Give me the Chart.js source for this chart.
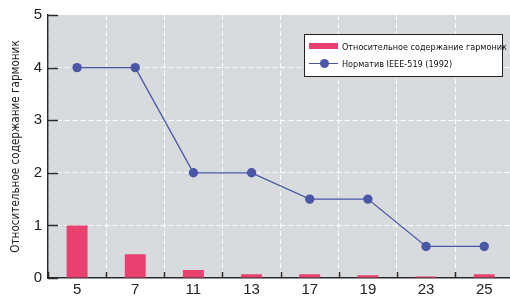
<!DOCTYPE html>
<html>
<head>
<meta charset="utf-8">
<script src="https://cdn.jsdelivr.net/npm/chart.js@4"></script>
<style>
    html, body { margin: 0; padding: 0; background: #fff; overflow: hidden; }
    #wrap { position: relative; width: 518px; height: 298px; }
    #legend {
        position: absolute; left: 304px; top: 34px; width: 197px; height: 41px;
        background: #fff; border: 1px solid #222;
        font-family: 'DejaVu Sans Condensed', 'Liberation Sans', sans-serif;
        font-stretch: condensed;
        font-size: 9px; color: #111;
    }
    .item { position: absolute; left: 4px; height: 12px; line-height: 12px; white-space: nowrap; }
    .swatch { position: absolute; left: 0; width: 29px; }
    .label { position: absolute; left: 33px; top: 0; }
</style>
</head>
<body>
<div id="wrap">
    <canvas id="chart" width="518" height="298"></canvas>
    <div id="legend">
        <div class="item" style="top:6px;">
            <div class="swatch" style="top:2px;height:6px;background:#e8416f;"></div>
            <span class="label">Относительное содержание гармоник</span>
        </div>
        <div class="item" style="top:23px;">
            <div class="swatch" style="top:5px;height:1px;background:#4a56a6;"></div>
            <div style="position:absolute;left:11px;top:1px;width:9px;height:9px;border-radius:50%;background:#4a56a6;"></div>
            <span class="label">Норматив IEEE-519 (1992)</span>
        </div>
    </div>
</div>
<script>
// Harmonic orders
const harmonics = ['5', '7', '11', '13', '17', '19', '23', '25'];
// Relative harmonic content (bars)
const harmonicContent = [1.0, 0.45, 0.15, 0.07, 0.07, 0.05, 0.03, 0.07];
// IEEE-519 (1992) limits (line)
const ieeeLimits = [4, 4, 2, 2, 1.5, 1.5, 0.6, 0.6];
const yTicks = [0, 1, 2, 3, 4, 5];

const axisColor = '#2a2a2a';

// Grey plot background + inward tick marks
const plotDecor = {
    id: 'plotDecor',
    beforeDraw(chart) {
        const { ctx, chartArea: a } = chart;
        ctx.save();
        ctx.fillStyle = '#d8dbde';
        ctx.fillRect(a.left, a.top, a.right - a.left, a.bottom - a.top);
        ctx.restore();
    },
    afterDraw(chart) {
        const { ctx, chartArea: a, scales } = chart;
        ctx.save();
        ctx.strokeStyle = axisColor;
        ctx.lineWidth = 1.5;
        ctx.beginPath();
        yTicks.forEach(v => {
            const y = Math.round(scales.y.getPixelForValue(v)) + 0.5;
            ctx.moveTo(a.left, y);
            ctx.lineTo(a.left + 10, y);
        });
        for (let i = 0; i <= harmonics.length; i++) {
            const x = Math.round(scales.x.getPixelForValue(i - 0.5)) + 0.5;
            ctx.moveTo(x, a.bottom);
            ctx.lineTo(x, a.bottom - 6);
        }
        ctx.stroke();
        ctx.restore();
    }
};

const ctx = document.getElementById('chart').getContext('2d');
new Chart(ctx, {
    type: 'bar',
    data: {
        labels: harmonics,
        datasets: [
            {
                type: 'line',
                label: 'Норматив IEEE-519 (1992)',
                data: ieeeLimits,
                borderColor: '#4a56a6',
                backgroundColor: '#4a56a6',
                borderWidth: 1.3,
                pointRadius: 4.7,
                pointBorderWidth: 0,
                tension: 0,
                order: 0
            },
            {
                label: 'Относительное содержание гармоник',
                data: harmonicContent,
                backgroundColor: '#e8416f',
                barPercentage: 0.36,
                categoryPercentage: 1,
                order: 1
            }
        ]
    },
    options: {
        responsive: false,
        animation: false,
        layout: { padding: { top: 14, left: 0, right: 0, bottom: 0 } },
        plugins: {
            legend: { display: false },
            tooltip: { enabled: false }
        },
        scales: {
            x: {
                grid: {
                    offset: true,
                    color: '#ffffff',
                    lineWidth: 1,
                    drawTicks: false
                },
                border: { display: true, color: axisColor, width: 1.5, dash: [5, 3] },
                ticks: {
                    color: '#222',
                    padding: 3,
                    font: { family: 'Liberation Sans', size: 15 }
                },
                afterFit: s => { s.height = 20; }
            },
            y: {
                min: 0,
                max: 5,
                afterBuildTicks: s => { s.ticks = yTicks.map(v => ({ value: v })); },
                grid: {
                    color: c => (c.tick && (c.tick.value === 0 || c.tick.value === 5)) ? 'rgba(0,0,0,0)' : '#ffffff',
                    lineWidth: 1,
                    drawTicks: false
                },
                border: { display: true, color: axisColor, width: 1.5, dash: [5, 3] },
                ticks: {
                    color: '#222',
                    padding: 6,
                    font: { family: 'Liberation Sans', size: 15 }
                },
                title: {
                    display: true,
                    text: 'Относительное содержание гармоник',
                    color: '#222',
                    padding: { top: 9, bottom: 0 },
                    font: { family: 'DejaVu Sans Condensed', size: 11.6 }
                },
                afterFit: s => { s.width = 48; }
            }
        }
    },
    plugins: [plotDecor]
});
</script>
</body>
</html>
